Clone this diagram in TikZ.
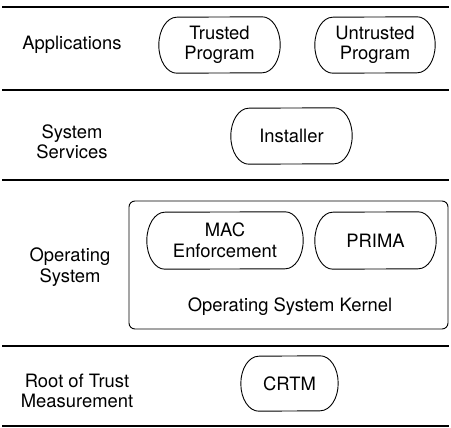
\documentclass[tikz,border=0pt]{standalone}
\usepackage{fontspec}
\setmainfont{TeX Gyre Heros}
% a label node with a pill outline whose sides are half ellipses
\newcommand\pillnode[6]{%
  \node[minimum width=#4pt, minimum height=#5pt] (#1) at (#2,#3) {#6};
  \draw[pillline] ([xshift=-18pt]#1.north east)
    arc[start angle=90, end angle=-90, x radius=18pt, y radius=#5pt/2]
    -- ([xshift=18pt]#1.south west)
    arc[start angle=270, end angle=90, x radius=18pt, y radius=#5pt/2]
    -- cycle;}
\begin{document}
\begin{tikzpicture}[x=1pt,y=-1pt,
  every node/.style={font=\fontsize{18.4}{20.5}\selectfont, align=center, inner sep=0pt},
  layer/.style={line width=1.6pt},
  pillline/.style={line width=0.9pt},
  kernelbox/.style={draw, line width=0.9pt, rounded corners=6pt}]
\useasboundingbox (0,0) rectangle (451,428);

% layer separators
\draw[layer] (2,7) -- (449,7);
\draw[layer] (2,90) -- (449,90);
\draw[layer] (2,180) -- (449,180);
\draw[layer] (2,346) -- (449,346);
\draw[layer] (2,426) -- (449,426);

% layer names
\node (lapp) at (72,45) {Applications};
\node (lsys) at (72,142) {System\\Services};
\node (los)  at (70,267) {Operating\\System};
\node (lrtm) at (77,391) {Root of Trust\\Measurement};

% applications
\pillnode{trusted}{219.5}{45}{121}{56}{Trusted\\Program}
\pillnode{untrusted}{375}{45}{120}{56}{Untrusted\\Program}

% system services
\pillnode{installer}{291.5}{136}{121}{56}{Installer}

% operating system kernel
\node[kernelbox, minimum width=319pt, minimum height=128pt] (kernel) at (288.5,265) {};
\node (klabel) at (290,307) {Operating System Kernel};
\pillnode{mac}{225}{240.5}{156}{57}{MAC\\Enforcement}
\pillnode{prima}{375.5}{240.5}{121}{57}{PRIMA}

% root of trust
\pillnode{crtm}{289.5}{383.5}{97}{55}{CRTM}
\end{tikzpicture}
\end{document}
